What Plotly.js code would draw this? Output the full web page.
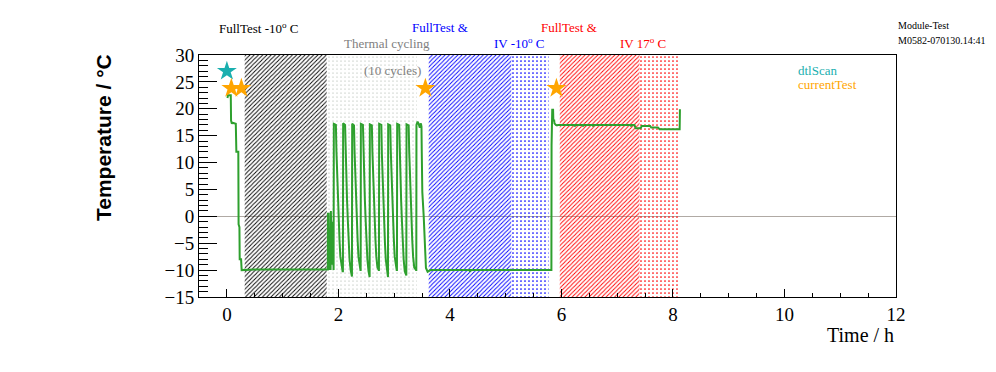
<!DOCTYPE html>
<html>
<head>
<meta charset="utf-8">
<script src="https://cdn.plot.ly/plotly-3.0.1.min.js"></script>
<style>html,body{margin:0;padding:0;background:#fff;}#chart{width:996px;height:372px;}</style>
</head>
<body>
<div id="chart"></div>
<script>
// ---- data ----
// temperature curve (hours, degC)
const tempTime = [
  0.01, 0.02, 0.07, 0.075, 0.09, 0.10, 0.16, 0.17, 0.205, 0.21, 0.225, 0.23, 0.255, 0.265,
  0.50, 1.00, 1.50, 1.81,
  1.812, 1.825, 1.83, 1.84, 1.845, 1.86, 1.865, 1.875, 1.885, 1.895, 1.91,
  1.914, 1.918, 1.955, 1.965, 1.975, 1.99, 2.005, 2.02, 2.035, 2.055, 2.075,
  2.081, 2.085, 2.12, 2.13, 2.14, 2.155, 2.17, 2.185, 2.20, 2.22, 2.238,
  2.243, 2.247, 2.28, 2.29, 2.30, 2.315, 2.33, 2.345, 2.36, 2.38, 2.395,
  2.399, 2.403, 2.44, 2.45, 2.46, 2.475, 2.49, 2.505, 2.52, 2.54, 2.555,
  2.560, 2.564, 2.60, 2.61, 2.62, 2.635, 2.65, 2.665, 2.68, 2.70, 2.722,
  2.727, 2.731, 2.77, 2.78, 2.79, 2.805, 2.82, 2.835, 2.85, 2.87, 2.884,
  2.889, 2.893, 2.93, 2.94, 2.95, 2.965, 2.98, 2.995, 3.01, 3.03, 3.045,
  3.050, 3.054, 3.09, 3.10, 3.11, 3.125, 3.14, 3.155, 3.17, 3.19, 3.213,
  3.218, 3.222, 3.26, 3.27, 3.28, 3.295, 3.31, 3.325, 3.34, 3.36, 3.392,
  3.397, 3.40, 3.42, 3.44, 3.46, 3.48, 3.49, 3.495, 3.505, 3.53, 3.55, 3.57, 3.60, 3.65,
  4.35, 4.36, 4.37, 5.00, 5.82,
  5.823, 5.835, 5.85, 5.855, 5.87, 5.875, 5.90, 5.92, 5.94,
  6.23, 6.24, 6.25, 6.38, 6.39, 6.40, 6.56, 6.57, 6.58, 7.24, 7.25, 7.26,
  7.31, 7.33, 7.42, 7.44, 7.59, 7.61, 7.73, 7.76, 8.12, 8.125
];
const tempValue = [
  22.0, 22.5, 22.5, 17.8, 17.2, 17.4, 17.2, 12.0, 12.0, -1.5, -2.0, -8.0, -8.0, -10.0,
  -9.9, -9.9, -9.9, -9.9,
  0.5, 0.5, -5.5, -5.5, -9.8, -9.8, 1.0, -4.5, -9.0, -1.0, -10.0,
  -10.0, 17.2, 17.0, 12.0, 8.5, 3.5, -0.5, -4.5, -7.5, -9.5, -10.2,
  -10.2, 17.3, 17.0, 11.5, 8.0, 3.0, -1.0, -5.0, -8.0, -10.0, -11.2,
  -11.2, 17.2, 16.9, 12.0, 8.5, 3.5, -0.5, -4.5, -7.5, -9.5, -10.0,
  -10.0, 17.2, 17.0, 11.5, 8.0, 3.0, -1.0, -5.0, -8.0, -10.2, -11.3,
  -11.3, 17.1, 16.9, 12.0, 8.5, 3.5, -0.5, -4.5, -7.5, -9.5, -10.0,
  -10.0, 17.2, 17.0, 11.5, 8.0, 3.0, -1.0, -5.0, -8.0, -10.2, -11.3,
  -11.3, 17.1, 16.9, 12.0, 8.5, 3.5, -0.5, -4.5, -7.5, -9.5, -10.0,
  -10.0, 17.2, 17.0, 11.5, 8.0, 3.0, -1.0, -5.0, -8.0, -10.2, -11.0,
  -11.0, 17.1, 16.9, 12.0, 8.5, 3.5, -0.5, -4.5, -7.5, -9.5, -10.0,
  -10.0, 17.0, 17.6, 17.2, 16.5, 17.3, 16.7, 12.0, 4.5, 0.0, -6.0, -9.6, -10.3, -10.0,
  -10.0, -10.3, -10.0, -10.0, -10.0,
  13.2, 19.8, 19.8, 17.8, 17.8, 17.3, 17.0, 16.9, 17.0,
  17.0, 16.7, 17.0, 17.0, 16.7, 17.0, 17.0, 16.7, 17.0, 17.0, 16.7, 17.0,
  17.0, 16.4, 16.4, 16.8, 16.8, 16.5, 16.5, 16.2, 16.2, 19.9
];

// test markers
const dtlScanTime = [0.0];
const dtlScanTemp = [27.0];
const currentTestTime = [0.08, 0.26, 3.56, 5.91];
const currentTestTemp = [23.8, 23.8, 23.8, 23.8];

// test phases (hours): [start, end]
const fullTestCold = [0.32, 1.79];
const thermalCycling = [1.80, 3.41];
const ivColdHatch = [3.62, 5.10];
const ivColdDots = [5.10, 5.77];
const ivWarmHatch = [5.97, 7.40];
const ivWarmDots = [7.40, 8.10];

const xTickLabels = ['0', '2', '4', '6', '8', '10', '12'];
const xTickValues = [0, 2, 4, 6, 8, 10, 12];

const yMin = -15, yMax = 30;

// ---- build ----
function region(span, color, shape, size, solidity) {
  return {
    type: 'bar',
    x: [(span[0] + span[1]) / 2],
    width: [span[1] - span[0]],
    base: [yMin],
    y: [yMax - yMin],
    marker: {
      color: color,
      line: {width: 0},
      pattern: {shape: shape, size: size, solidity: solidity, fillmode: 'replace'}
    },
    hoverinfo: 'skip',
    showlegend: false
  };
}

const traces = [
  region(fullTestCold, '#000000', '/', 3, 0.3),
  region(thermalCycling, '#98a498', '.', 4, 0.06),
  region(ivColdHatch, '#0000ff', '/', 3, 0.3),
  region(ivColdDots, '#0000ff', '.', 4, 0.15),
  region(ivWarmHatch, '#ff0000', '/', 3, 0.3),
  region(ivWarmDots, '#ff0000', '.', 4, 0.15),
  {
    type: 'scatter', mode: 'lines',
    x: tempTime, y: tempValue,
    line: {color: '#2ea02e', width: 2},
    hoverinfo: 'skip', showlegend: false
  },
  {
    type: 'scatter', mode: 'markers',
    x: dtlScanTime, y: dtlScanTemp,
    marker: {symbol: 'star', size: 15, color: '#1aafaf'},
    hoverinfo: 'skip', showlegend: false
  },
  {
    type: 'scatter', mode: 'markers',
    x: currentTestTime, y: currentTestTemp,
    marker: {symbol: 'star', size: 15, color: '#ffa500'},
    hoverinfo: 'skip', showlegend: false
  }
];

const serif = 'Liberation Serif, Times New Roman, serif';
function note(text, x, y, color, size, xanchor) {
  return {
    text: text, xref: 'paper', yref: 'paper', x: x, y: y,
    xanchor: xanchor || 'left', yanchor: 'middle', showarrow: false,
    font: {family: serif, size: size, color: color}
  };
}

const layout = {
  width: 996, height: 372,
  margin: {l: 199, r: 100, t: 55, b: 75, pad: 0},
  paper_bgcolor: '#ffffff', plot_bgcolor: '#ffffff',
  barmode: 'overlay',
  showlegend: false,
  xaxis: {
    range: [-0.5, 12],
    tickvals: xTickValues, ticktext: xTickLabels,
    ticks: 'inside', ticklen: 8, tickwidth: 1, tickcolor: '#000',
    minor: {dtick: 0.5, tick0: 0, ticks: 'inside', ticklen: 4, tickcolor: '#000', showgrid: false},
    showline: true, linecolor: '#000', linewidth: 1, mirror: true,
    showgrid: false, zeroline: false,
    tickfont: {family: serif, size: 19, color: '#000'}
  },
  yaxis: {
    range: [yMin, yMax],
    tick0: 0, dtick: 5,
    ticks: 'inside', ticklen: 18, tickwidth: 1, tickcolor: '#000',
    minor: {dtick: 1, tick0: 0, ticks: 'inside', ticklen: 9, tickcolor: '#000', showgrid: false},
    showline: true, linecolor: '#000', linewidth: 1, mirror: true,
    showgrid: false, zeroline: true, zerolinecolor: '#b0aaa4', zerolinewidth: 1,
    tickfont: {family: serif, size: 19, color: '#000'}
  },
  annotations: [
    note('FullTest -10<sup>o</sup> C', 0.0258, 1.1116, '#000000', 13),
    note('Thermal cycling', 0.2052, 1.0483, '#808080', 13),
    note('(10 cycles)', 0.2334, 0.9351, '#808080', 13),
    note('FullTest &amp;', 0.3027, 1.1116, '#0000ff', 13),
    note('IV -10<sup>o</sup> C', 0.4204, 1.0496, '#0000ff', 13),
    note('FullTest &amp;', 0.4878, 1.1116, '#ff0000', 13),
    note('IV 17<sup>o</sup> C', 0.6011, 1.0496, '#ff0000', 13),
    note('Module-Test', 1.0, 1.121, '#000000', 10),
    note('M0582-070130.14:41', 1.0, 1.0579, '#000000', 10),
    note('dtlScan', 0.8565, 0.938, '#1aafaf', 13),
    note('currentTest', 0.8565, 0.879, '#ffa500', 13),
    note('Time / h', 1.0, -0.157, '#000000', 20, 'right'),
    {
      text: '<b>Temperature / °C</b>', xref: 'paper', yref: 'paper',
      x: -0.1377, y: 0.657, xanchor: 'center', yanchor: 'middle',
      textangle: -90, showarrow: false,
      font: {family: 'Liberation Sans, Arial, sans-serif', size: 21, color: '#000'}
    }
  ]
};

Plotly.newPlot('chart', traces, layout, {staticPlot: true, displayModeBar: false});
</script>
</body>
</html>
